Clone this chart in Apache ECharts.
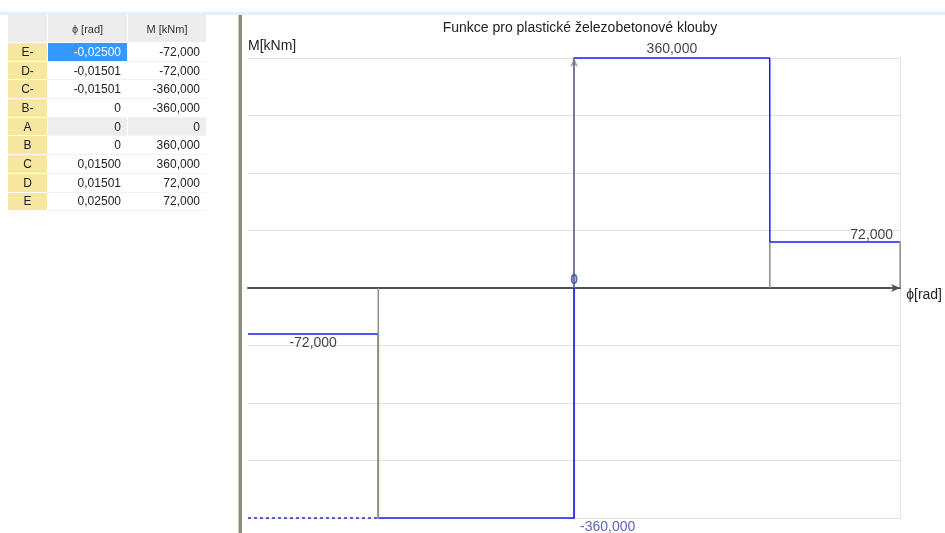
<!DOCTYPE html>
<html>
<head>
<meta charset="utf-8">
<script src="https://cdn.jsdelivr.net/npm/echarts@6/dist/echarts.min.js"></script>
<style>
    body { margin: 0; width: 945px; height: 533px; overflow: hidden; background: #fff; font-family: "Liberation Sans", Arial, sans-serif; }
    #topline { position: absolute; left: 0; top: 12px; width: 945px; height: 3px; background: #e6eef8; }
    #divider { position: absolute; left: 238px; top: 15px; width: 3px; height: 518px; background: #8e8e7e; border-left: 1px solid #c8c8bc; }
    #chart { position: absolute; left: 0; top: 0; width: 945px; height: 533px; }
    #tbl { position: absolute; left: 8px; top: 15px; border-collapse: separate; border-spacing: 0; font-size: 12px; color: #222; }
    #tbl td, #tbl th { padding: 0 6px; border-right: 1px solid #fff; border-bottom: 1px solid #fff; box-sizing: border-box; }
    #tbl th { height: 28px; background: #ededed; font-weight: normal; font-size: 11px; color: #333; text-align: center; }
    #tbl td { height: 18.7px; text-align: right; background: #fff; border-bottom: 1px solid #f2f2f2; }
    #tbl td.rh { background: #f8e7a1; text-align: center; border-bottom: 1px solid #fff; }
    #tbl tr.cur td.val { background: #eeeeee; }
    #tbl td.sel { background: #3399ff; color: #fff; }
</style>
</head>
<body>
<div id="chart"></div>
<div id="topline"></div>
<div id="divider"></div>
<table id="tbl"></table>
<script>
    const pointNames = ['E-', 'D-', 'C-', 'B-', 'A', 'B', 'C', 'D', 'E'];
    const phiValues = [-0.025, -0.01501, -0.01501, 0, 0, 0, 0.015, 0.01501, 0.025];
    const momentValues = [-72, -72, -360, -360, 0, 360, 360, 72, 72];
    // points that get a grey line down to the phi axis
    const dropNames = ['C-', 'B', 'D', 'E'];
    const yMin = -360, yMax = 360, yStep = 90;

    const fmtPhi = (v) => v === 0 ? '0' : v.toFixed(5).replace('.', ',');
    const fmtM = (v) => v === 0 ? '0' : v.toFixed(3).replace('.', ',');
    const idx = (name) => pointNames.indexOf(name);

    // table on the left
    let html = '<tr><th style="width:40px"></th><th style="width:80px">ϕ [rad]</th><th style="width:79px">M [kNm]</th></tr>';
    pointNames.forEach((name, i) => {
        const cls = name === 'A' ? ' class="cur"' : '';
        const sel = i === 0 ? ' sel' : '';
        html += '<tr' + cls + '><td class="rh">' + name + '</td><td class="val' + sel + '">' + fmtPhi(phiValues[i]) +
            '</td><td class="val">' + fmtM(momentValues[i]) + '</td></tr>';
    });
    document.getElementById('tbl').innerHTML = html;

    const chart = echarts.init(document.getElementById('chart'));
    const blue = '#1a1aff';
    const grey = '#8e8e7e';

    const dropSeries = dropNames.map((name) => ({
        type: 'line',
        data: [[phiValues[idx(name)], momentValues[idx(name)]], [phiValues[idx(name)], 0]],
        symbol: 'none',
        clip: false,
        silent: true,
        z: 4,
        lineStyle: { color: grey, width: 1.5 }
    }));

    const labelFont = { fontSize: 14, fontFamily: 'Liberation Sans', color: '#111' };
    const labelData = [
        {
            value: [(phiValues[idx('B')] + phiValues[idx('C')]) / 2, momentValues[idx('B')]],
            label: { ...labelFont, formatter: fmtM(momentValues[idx('B')]), position: 'top', distance: 2 }
        },
        {
            value: [phiValues[idx('E')], momentValues[idx('E')]],
            label: { ...labelFont, formatter: fmtM(momentValues[idx('E')]), position: 'top', align: 'right', offset: [-7, 0], distance: 0 }
        },
        {
            value: [(phiValues[idx('E-')] + phiValues[idx('D-')]) / 2, momentValues[idx('E-')]],
            label: { ...labelFont, formatter: fmtM(momentValues[idx('E-')]), position: 'bottom', distance: 2 }
        },
        {
            value: [phiValues[idx('A')], momentValues[idx('A')]],
            label: { ...labelFont, color: '#2848a8', fontWeight: 'bold', formatter: fmtM(momentValues[idx('A')]), position: 'top', distance: 1 }
        },
        {
            value: [phiValues[idx('B-')], momentValues[idx('B-')]],
            label: { ...labelFont, color: '#3038a8', formatter: fmtM(momentValues[idx('B-')]), position: 'bottom', align: 'left', offset: [6, 0], distance: 2 }
        }
    ];

    const option = {
        animation: false,
        title: [
            {
                text: 'Funkce pro plastické železobetonové klouby',
                left: 575, top: 16, textAlign: 'center',
                textStyle: { fontSize: 14, fontWeight: 'normal', color: '#222', fontFamily: 'Liberation Sans' }
            },
            {
                text: 'M[kNm]',
                left: 248, top: 39, padding: 0,
                textStyle: { fontSize: 14, fontWeight: 'normal', color: '#222', fontFamily: 'Liberation Sans' }
            }
        ],
        grid: { left: 248, right: 44, top: 58, bottom: 15 },
        xAxis: {
            type: 'value',
            min: phiValues[0],
            max: phiValues[phiValues.length - 1],
            name: 'ϕ[rad]',
            nameLocation: 'end',
            nameGap: 6,
            nameTextStyle: { fontSize: 14, color: '#222', fontFamily: 'Liberation Sans', verticalAlign: 'top' },
            axisLine: { onZero: true, symbol: ['none', 'arrow'], symbolSize: [6, 9], lineStyle: { color: '#505050', width: 2 } },
            axisTick: { show: false },
            axisLabel: { show: false },
            splitLine: { show: false }
        },
        yAxis: [
            {
                type: 'value',
                min: yMin, max: yMax, interval: yStep,
                axisLine: { onZero: true, symbol: ['none', 'arrow'], symbolSize: [6, 9], lineStyle: { color: '#a6a696', width: 2 } },
                axisTick: { show: false },
                axisLabel: { show: false },
                splitLine: { lineStyle: { color: '#e2e2e2', width: 1 } }
            },
            {
                type: 'value',
                position: 'right',
                min: yMin, max: yMax, interval: yStep,
                axisLine: { show: true, onZero: false, lineStyle: { color: '#e2e2e2', width: 1 } },
                axisTick: { show: false },
                axisLabel: { show: false },
                splitLine: { show: false }
            }
        ],
        series: [
            {
                name: 'M',
                type: 'line',
                data: phiValues.map((p, i) => [p, momentValues[i]]),
                symbol: 'none',
                clip: false,
                z: 3,
                lineStyle: { color: blue, width: 1.5 }
            },
            {
                type: 'line',
                data: [[phiValues[idx('E-')], momentValues[idx('C-')]], [phiValues[idx('C-')], momentValues[idx('C-')]]],
                symbol: 'none',
                clip: false,
                z: 3,
                lineStyle: { color: '#2030c0', width: 1.5, type: [3, 3] }
            },
            ...dropSeries,
            {
                type: 'scatter',
                data: labelData,
                symbolSize: 0,
                silent: true,
                z: 6,
                label: { show: true }
            }
        ]
    };

    chart.setOption(option);
</script>
</body>
</html>
